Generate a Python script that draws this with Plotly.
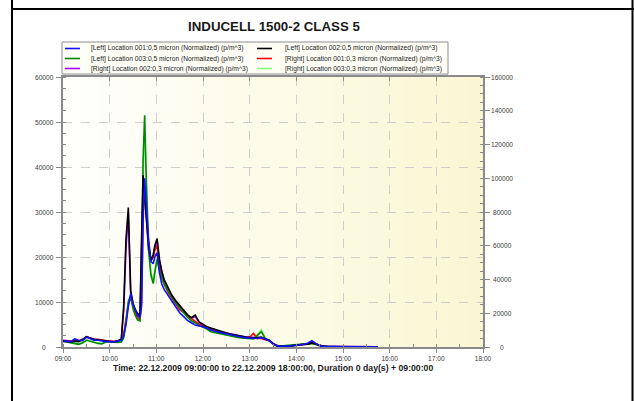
import plotly.graph_objects as go
import pandas as pd

# ---------------- data ----------------
minutes = [0, 5, 10, 15, 20, 25, 30, 35, 40, 45, 50, 55, 60, 65, 70, 75,
           78, 81, 84, 87, 90, 93, 96, 99, 101, 103, 105, 107,
           110, 113, 116, 118, 121, 124, 127, 130,
           135, 140, 145, 150, 155, 160, 165, 170, 175, 180,
           185, 190, 195, 200, 205, 210, 215, 220, 225, 230,
           235, 240, 245, 250, 255, 260, 265, 270, 275, 280,
           285, 290, 295, 300, 305, 310, 315, 320, 325, 330,
           335, 340, 345, 350, 355, 360, 365, 370, 375, 380,
           385, 390, 395, 400, 405]

left_001_05 = [1200, 1300, 1200, 1800, 1500, 1400, 2200, 1900, 1500, 1500, 1300, 1200, 1200, 1100, 1300, 1500,
               2500, 5000, 9000, 11800, 9500, 8000, 7000, 6500, 9000, 28000, 37500, 32000,
               24000, 19000, 18500, 20000, 21000, 16500, 14000, 12800,
               11500, 10000, 8800, 7600, 6800, 5900, 5400, 4900, 4700, 4500,
               4200, 3800, 3500, 3300, 3100, 2900, 2700, 2500, 2300, 2200,
               2000, 2000, 1900, 1900, 2100, 1700, 1400, 700, 250, 150,
               150, 200, 250, 400, 500, 600, 900, 1400, 800, 250,
               150, 100, 90, 80, 80, 70, 70, 60, 60, 50,
               50, 50, 40, 40, 40]

left_002_05 = [1400, 1300, 1100, 1300, 1200, 1600, 2300, 2000, 1700, 1600, 1500, 1400, 1300, 1100, 1300, 1800,
               9000, 24000, 31000, 12500, 9800, 8300, 7400, 7000, 24000, 38200, 33500, 28500,
               22500, 19300, 20500, 22500, 24100, 19500, 16800, 15000,
               13300, 11500, 10300, 9200, 8300, 7200, 6500, 7100, 5600, 5000,
               4500, 4200, 3900, 3600, 3400, 3100, 2900, 2700, 2500, 2300,
               2200, 2100, 2000, 2100, 2200, 1800, 1500, 800, 300, 200,
               150, 200, 300, 450, 500, 550, 600, 900, 700, 300,
               150, 100, 100, 90, 80, 80, 70, 70, 60, 60,
               60, 50, 50, 50, 50]

left_003_05 = [1300, 1100, 900, 700, 600, 900, 1500, 1300, 1000, 800, 700, 1100, 1200, 1100, 1000, 1100,
               2000, 5500, 10000, 11500, 8500, 7000, 6000, 5800, 15000, 42000, 51500, 38000,
               22000, 16000, 14100, 16500, 19500, 17000, 15500, 14000,
               12500, 11000, 9800, 8700, 7600, 6600, 5800, 5400, 4800, 4400,
               4000, 3400, 3200, 3000, 2800, 2600, 2500, 2300, 2100, 2000,
               1900, 1900, 1800, 2600, 3400, 1900, 1400, 700, 250, 200,
               250, 300, 350, 450, 600, 700, 650, 800, 600, 300,
               150, 100, 90, 80, 70, 70, 60, 60, 50, 50,
               50, 40, 40, 40, 40]

right_001_03 = [1300, 1200, 1300, 1500, 1400, 1600, 2300, 1900, 1600, 1700, 1500, 1400, 1300, 1200, 1400, 1600,
                2800, 6000, 9500, 11000, 9000, 7800, 6500, 6000, 10000, 30000, 35000, 30000,
                23000, 19500, 20000, 21500, 22500, 18000, 15500, 14000,
                12200, 10800, 9500, 8300, 7700, 7000, 6200, 5600, 5000, 4600,
                4300, 4000, 3700, 3400, 3200, 3000, 2800, 2600, 2300, 2100,
                2000, 2200, 3000, 1900, 1900, 1600, 1400, 700, 250, 200,
                200, 250, 300, 450, 500, 600, 700, 900, 600, 300,
                150, 120, 100, 90, 80, 80, 70, 70, 60, 60,
                60, 50, 50, 50, 50]

right_002_03 = [1500, 1400, 1300, 1400, 1300, 1700, 2200, 2000, 1700, 1600, 1500, 1400, 1300, 1200, 1300, 1700,
                8000, 22000, 29500, 12000, 9500, 8000, 7200, 6800, 22000, 36000, 34000, 28000,
                21500, 19000, 20000, 22000, 23500, 19000, 16500, 14800,
                13000, 11200, 10000, 9000, 8100, 7000, 6400, 6800, 5400, 4900,
                4400, 4100, 3800, 3500, 3300, 3100, 2900, 2700, 2500, 2300,
                2200, 2200, 2100, 2000, 2000, 1700, 1500, 800, 300, 200,
                150, 200, 300, 400, 500, 600, 700, 1100, 700, 300,
                150, 100, 100, 90, 80, 80, 70, 70, 60, 60,
                60, 50, 50, 50, 50]

right_003_03 = [1400, 1200, 1000, 800, 700, 1000, 1600, 1400, 1100, 900, 800, 1200, 1300, 1200, 1100, 1200,
                2200, 6000, 10500, 11000, 8800, 7200, 6200, 6000, 14000, 40000, 47000, 36000,
                21000, 16500, 15000, 17000, 20000, 17500, 15800, 14200,
                12800, 11200, 10000, 8900, 7800, 6800, 6000, 5500, 4900, 4500,
                4100, 3500, 3300, 3100, 2900, 2700, 2600, 2400, 2200, 2100,
                2000, 2000, 1900, 2800, 3900, 2000, 1500, 800, 300, 200,
                250, 300, 350, 450, 600, 700, 650, 800, 600, 300,
                150, 100, 90, 80, 70, 70, 60, 60, 50, 50,
                50, 40, 40, 40, 40]

series_names = [
    "[Left] Location 001:0,5 micron (Normalized) (p/m^3)",
    "[Left] Location 002:0,5 micron (Normalized) (p/m^3)",
    "[Left] Location 003:0,5 micron (Normalized) (p/m^3)",
    "[Right] Location 001:0,3 micron (Normalized) (p/m^3)",
    "[Right] Location 002:0,3 micron (Normalized) (p/m^3)",
    "[Right] Location 003:0,3 micron (Normalized) (p/m^3)",
]
series_values = [left_001_05, left_002_05, left_003_05, right_001_03, right_002_03, right_003_03]
series_colors = ["#1010ff", "#000000", "#008a00", "#ff0000", "#b000ff", "#80ff80"]

left_ticks = [0, 10000, 20000, 30000, 40000, 50000, 60000]
right_ticks = [0, 20000, 40000, 60000, 80000, 100000, 120000, 140000, 160000]

title_text = "INDUCELL 1500-2 CLASS 5"
x_title = "Time: 22.12.2009 09:00:00 to 22.12.2009 18:00:00, Duration 0 day(s) + 09:00:00"

# ---------------- figure ----------------
base = pd.Timestamp("2009-12-22 09:00:00")
times = [base + pd.Timedelta(minutes=m) for m in minutes]
t_end = base + pd.Timedelta(hours=9)

FONT = "Liberation Sans, Arial, sans-serif"
AX = "#8a8a8a"

L, R, T, B = 63, 151, 77, 54
W, H = 634, 401
PW, PH = W - L - R, H - T - B


def px(x):
    return (x - L) / PW


def py(y):
    return (H - B - y) / PH


fig = go.Figure()

draw_order = [5, 4, 3, 2, 1, 0]
for i in draw_order:
    fig.add_trace(go.Scatter(x=times, y=series_values[i], mode="lines", name=series_names[i],
                             line=dict(color=series_colors[i], width=1.6), showlegend=False,
                             hoverinfo="skip"))

# helper traces so secondary axes are drawn
fig.add_trace(go.Scatter(x=[], y=[], yaxis="y2", showlegend=False, hoverinfo="skip"))
fig.add_trace(go.Scatter(x=[], y=[], xaxis="x2", showlegend=False, hoverinfo="skip"))

shapes = []
# gradient background (white -> pale yellow)
N = 84
c0 = (255, 255, 253)
c1 = (249, 247, 210)
for k in range(N):
    f = k / (N - 1)
    col = tuple(round(c0[j] + (c1[j] - c0[j]) * f) for j in range(3))
    shapes.append(dict(type="rect", xref="paper", yref="paper", x0=k / N, x1=(k + 1) / N + 0.002,
                       y0=0, y1=1, fillcolor="rgb(%d,%d,%d)" % col, line=dict(width=0), layer="below"))

# frame (table cell lines)
shapes.append(dict(type="line", xref="paper", yref="paper", x0=px(12), x1=px(12), y0=py(0), y1=py(401),
                   line=dict(color="black", width=2)))
shapes.append(dict(type="line", xref="paper", yref="paper", x0=px(632.5), x1=px(632.5), y0=py(0), y1=py(401),
                   line=dict(color="black", width=2)))
shapes.append(dict(type="line", xref="paper", yref="paper", x0=px(11), x1=px(634), y0=py(9), y1=py(9),
                   line=dict(color="black", width=2)))

# legend box
shapes.append(dict(type="rect", xref="paper", yref="paper", x0=px(62), x1=px(448), y0=py(42), y1=py(74),
                   fillcolor="#fefef6", line=dict(color="#8c8c8c", width=1)))

annotations = []
sample_x = [65, 257]
text_x = [89, 283]
for i, name in enumerate(series_names):
    col, row = i % 2, i // 2
    yy = 48.5 + 10 * row
    shapes.append(dict(type="line", xref="paper", yref="paper", x0=px(sample_x[col]), x1=px(sample_x[col] + 15),
                       y0=py(yy), y1=py(yy), line=dict(color=series_colors[i], width=1.6)))
    annotations.append(dict(xref="paper", yref="paper", x=px(text_x[col]), y=py(yy), text=name,
                            showarrow=False, xanchor="left", yanchor="middle",
                            font=dict(family=FONT, size=6.7, color="#222222")))

# title
annotations.append(dict(xref="paper", yref="paper", x=px(274), y=py(26), text="<b>%s</b>" % title_text,
                        showarrow=False, xanchor="center", yanchor="middle",
                        font=dict(family=FONT, size=13.3, color="#1a1a1a")))
# x-axis title
annotations.append(dict(xref="paper", yref="paper", x=px(273), y=py(367.5), text="<b>%s</b>" % x_title,
                        showarrow=False, xanchor="center", yanchor="middle",
                        font=dict(family=FONT, size=8.7, color="#1a1a1a")))

# y tick labels (centered like the original)
for v in left_ticks:
    annotations.append(dict(xref="paper", yref="y", x=px(44), y=v, text=str(v), showarrow=False,
                            xanchor="center", yanchor="middle",
                            font=dict(family=FONT, size=6.6, color="#3a3a3a")))
for v in right_ticks:
    annotations.append(dict(xref="paper", yref="y2", x=px(502), y=v, text=str(v), showarrow=False,
                            xanchor="center", yanchor="middle",
                            font=dict(family=FONT, size=6.6, color="#3a3a3a")))

fig.update_layout(
    width=W, height=H,
    margin=dict(l=L, r=R, t=T, b=B, pad=0),
    paper_bgcolor="white", plot_bgcolor="white",
    showlegend=False,
    shapes=shapes, annotations=annotations,
    xaxis=dict(type="date", range=[base, t_end], dtick=3600000, tick0=base, tickformat="%H:%M",
               ticks="outside", ticklen=4, tickcolor=AX, tickwidth=1,
               showline=True, linecolor=AX, linewidth=1.5,
               showgrid=True, gridcolor="#cfcfcf", griddash="dash", gridwidth=1,
               zeroline=False, tickfont=dict(family=FONT, size=6.6, color="#3a3a3a"),
               minor=dict(dtick=1800000, ticks="inside", ticklen=3, tickcolor=AX, showgrid=False),
               fixedrange=True),
    xaxis2=dict(type="date", overlaying="x", side="top", range=[base, t_end], dtick=3600000, tick0=base,
                ticks="inside", ticklen=4, tickcolor=AX, showticklabels=False,
                showline=True, linecolor=AX, linewidth=1.5, showgrid=False, zeroline=False),
    yaxis=dict(range=[0, 60000], dtick=10000, ticks="outside", ticklen=5, tickcolor=AX,
               showticklabels=False, showline=True, linecolor=AX, linewidth=1.5,
               showgrid=True, gridcolor="#cfcfcf", griddash="dash", gridwidth=1, zeroline=False,
               minor=dict(dtick=2500, ticks="inside", ticklen=3, tickcolor=AX, showgrid=False)),
    yaxis2=dict(overlaying="y", side="right", range=[0, 160000], dtick=20000, ticks="outside", ticklen=5,
                tickcolor=AX, showticklabels=False, showline=True, linecolor=AX, linewidth=1.5,
                showgrid=False, zeroline=False,
                minor=dict(dtick=5000, ticks="inside", ticklen=3, tickcolor=AX, showgrid=False)),
)

fig.write_html("out.html", config={"displayModeBar": False},
               post_script="document.body.style.margin='0';document.body.style.overflow='hidden';")
